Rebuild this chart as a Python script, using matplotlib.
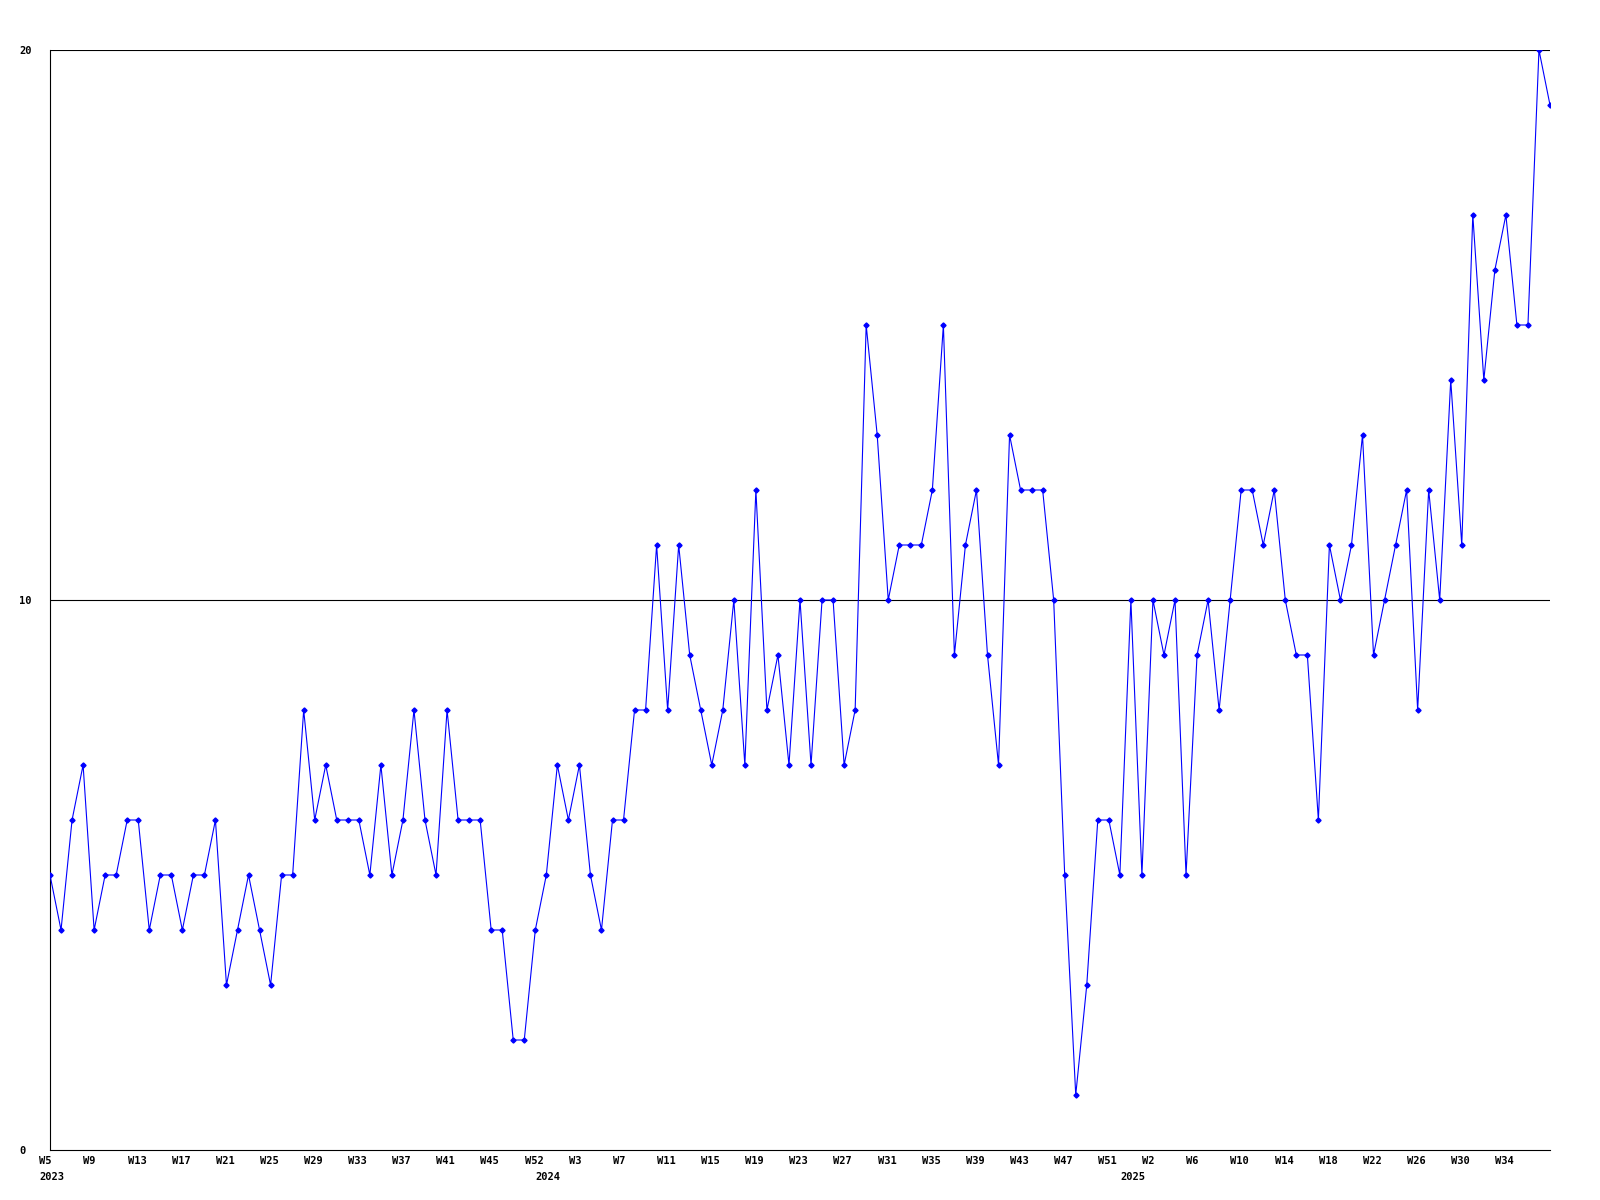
import matplotlib
matplotlib.use("Agg")
import matplotlib.pyplot as plt
import matplotlib.transforms as mtransforms

# weekly counts, one entry per plotted point (left to right)
values = [
    5, 4, 6, 7, 4, 5, 5, 6, 6, 4, 5, 5, 4, 5, 5, 6, 3, 4, 5, 4,
    3, 5, 5, 8, 6, 7, 6, 6, 6, 5, 7, 5, 6, 8, 6, 5, 8, 6, 6, 6,
    4, 4, 2, 2, 4, 5, 7, 6, 7, 5, 4, 6, 6, 8, 8, 11, 8, 11, 9, 8,
    7, 8, 10, 7, 12, 8, 9, 7, 10, 7, 10, 10, 7, 8, 15, 13, 10, 11, 11, 11,
    12, 15, 9, 11, 12, 9, 7, 13, 12, 12, 12, 10, 5, 1, 3, 6, 6, 5, 10, 5,
    10, 9, 10, 5, 9, 10, 8, 10, 12, 12, 11, 12, 10, 9, 9, 6, 11, 10, 11, 13,
    9, 10, 11, 12, 8, 12, 10, 14, 11, 17, 14, 16, 17, 15, 15, 20, 19,
]

week_labels = [
    "W5", "W9", "W13", "W17", "W21", "W25", "W29", "W33", "W37", "W41", "W45", "W52",
    "W3", "W7", "W11", "W15", "W19", "W23", "W27", "W31", "W35", "W39", "W43", "W47", "W51",
    "W2", "W6", "W10", "W14", "W18", "W22", "W26", "W30", "W34",
]
label_step = 4

years = ["2023", "2024", "2025"]
year_start = [0, 45, 98]

FONT = dict(family="DejaVu Sans Mono", weight="bold", size=7.5)

fig = plt.figure(figsize=(16, 12), dpi=100)
ax = fig.add_axes([50 / 1600, 50 / 1200, 1500 / 1600, 1100 / 1200])

x = list(range(len(values)))
ax.plot(x, values, color="#0000ff", lw=0.8, marker="D", ms=2.6,
        mfc="#0000ff", mec="#0000ff", zorder=3)

ax.set_xlim(0, len(values) - 1)
ax.set_ylim(0, 20)

for v in (10, 20):
    ax.axhline(v, color="black", lw=0.8, zorder=1)

for side in ("right", "top"):
    ax.spines[side].set_visible(False)
for side in ("left", "bottom"):
    ax.spines[side].set_color("black")
    ax.spines[side].set_linewidth(0.8)

ax.set_yticks([0, 10, 20])
ax.set_yticklabels(["0", "10", "20"], **FONT)
ax.tick_params(axis="y", length=0, pad=22)
for lab in ax.get_yticklabels():
    lab.set_horizontalalignment("left")

ticks = list(range(0, label_step * len(week_labels), label_step))
ax.set_xticks(ticks)
ax.set_xticklabels(week_labels, **FONT)
ax.tick_params(axis="x", length=0, pad=4)

# labels are left-aligned a little before their point
shift = mtransforms.ScaledTranslation(-10.7 / 100, 0, fig.dpi_scale_trans)
for lab in ax.get_xticklabels():
    lab.set_horizontalalignment("left")
    lab.set_transform(lab.get_transform() + shift)

trans = mtransforms.blended_transform_factory(ax.transData, ax.transAxes)
for yr, pos in zip(years, year_start):
    ax.text(pos, -22 / 1100, yr, transform=trans + shift, ha="left", va="top",
            **FONT)

fig.savefig("out.png", dpi=100)
